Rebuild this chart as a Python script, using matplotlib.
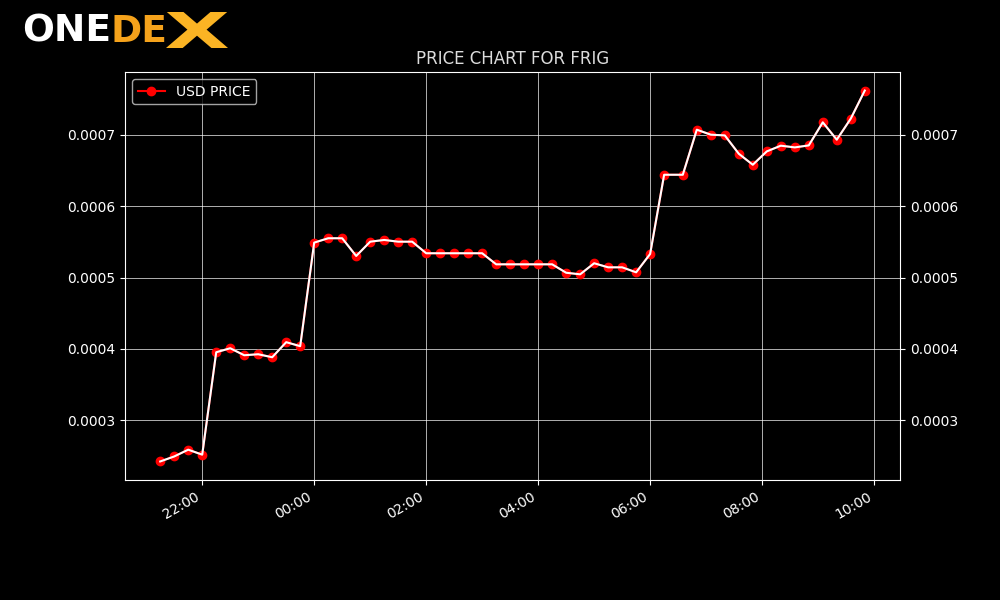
import pandas as pd
import matplotlib
matplotlib.use("Agg")
import matplotlib.pyplot as plt
import matplotlib.dates as mdates
from matplotlib.textpath import TextPath
from matplotlib.patches import PathPatch
from matplotlib.font_manager import FontProperties
from matplotlib.transforms import Affine2D, IdentityTransform

# price samples (time, usd)
times = [
    "2023-01-01 21:15", "2023-01-01 21:30", "2023-01-01 21:45", "2023-01-01 22:00",
    "2023-01-01 22:15", "2023-01-01 22:30", "2023-01-01 22:45", "2023-01-01 23:00",
    "2023-01-01 23:15", "2023-01-01 23:30", "2023-01-01 23:45", "2023-01-02 00:00",
    "2023-01-02 00:15", "2023-01-02 00:30", "2023-01-02 00:45", "2023-01-02 01:00",
    "2023-01-02 01:15", "2023-01-02 01:30", "2023-01-02 01:45", "2023-01-02 02:00",
    "2023-01-02 02:15", "2023-01-02 02:30", "2023-01-02 02:45", "2023-01-02 03:00",
    "2023-01-02 03:15", "2023-01-02 03:30", "2023-01-02 03:45", "2023-01-02 04:00",
    "2023-01-02 04:15", "2023-01-02 04:30", "2023-01-02 04:45", "2023-01-02 05:00",
    "2023-01-02 05:15", "2023-01-02 05:30", "2023-01-02 05:45", "2023-01-02 06:00",
    "2023-01-02 06:15", "2023-01-02 06:35", "2023-01-02 06:50", "2023-01-02 07:05",
    "2023-01-02 07:20", "2023-01-02 07:35", "2023-01-02 07:50", "2023-01-02 08:05",
    "2023-01-02 08:20", "2023-01-02 08:35", "2023-01-02 08:50", "2023-01-02 09:05",
    "2023-01-02 09:20", "2023-01-02 09:35", "2023-01-02 09:50",
]
usd_price = [
    0.0002425, 0.0002495, 0.0002590, 0.0002520,
    0.0003954, 0.0004010, 0.0003912, 0.0003926,
    0.0003884, 0.0004095, 0.0004039, 0.0005489,
    0.0005550, 0.0005550, 0.0005302, 0.0005502,
    0.0005526, 0.0005502, 0.0005502, 0.0005340,
    0.0005340, 0.0005340, 0.0005340, 0.0005340,
    0.0005185, 0.0005185, 0.0005185, 0.0005185,
    0.0005185, 0.0005067, 0.0005045, 0.0005200,
    0.0005143, 0.0005143, 0.0005073, 0.0005330,
    0.0006439, 0.0006439, 0.0007070, 0.0007000,
    0.0006990, 0.0006733, 0.0006579, 0.0006766,
    0.0006846, 0.0006822, 0.0006850, 0.0007173,
    0.0006930, 0.0007225, 0.0007618,
]

token = "FRIG"

plt.style.use("dark_background")

dates = pd.to_datetime(times)

fig, ax = plt.subplots(figsize=(10, 6), dpi=100)
ax.plot(dates, usd_price, "o-", color="red", markersize=6, label="USD PRICE")
ax.plot(dates, usd_price, color="white", linewidth=1.5)

ax.xaxis.set_major_locator(mdates.HourLocator(byhour=range(0, 24, 2)))
ax.xaxis.set_major_formatter(mdates.DateFormatter("%H:%M"))
ax.tick_params(axis="y", right=True, labelright=True)
ax.grid(True, color="white", linewidth=0.6, alpha=0.8)
ax.legend(loc="upper left")
ax.set_title("PRICE CHART FOR " + token, color="#dddddd")
fig.autofmt_xdate()

# logo
fig.text(0.022, 0.93, "ONE", color="white", fontsize=27, fontweight="bold", va="baseline")
fig.text(0.110, 0.93, "DE", color="#f5a21b", fontsize=27, fontweight="bold", va="baseline")

# wide stretched X, placed in pixel box
xpath = TextPath((0, 0), "X", size=40, prop=FontProperties(weight="bold"))
ext = xpath.get_extents()
x0, x1, y0, y1 = 166, 228, 600 - 48, 600 - 12
tr = (Affine2D().translate(-ext.x0, -ext.y0)
      .scale((x1 - x0) / ext.width, (y1 - y0) / ext.height)
      .translate(x0, y0))
fig.add_artist(PathPatch(tr.transform_path(xpath), transform=IdentityTransform(),
                         facecolor="#fbb424", edgecolor="none"))

fig.savefig("out.png")
